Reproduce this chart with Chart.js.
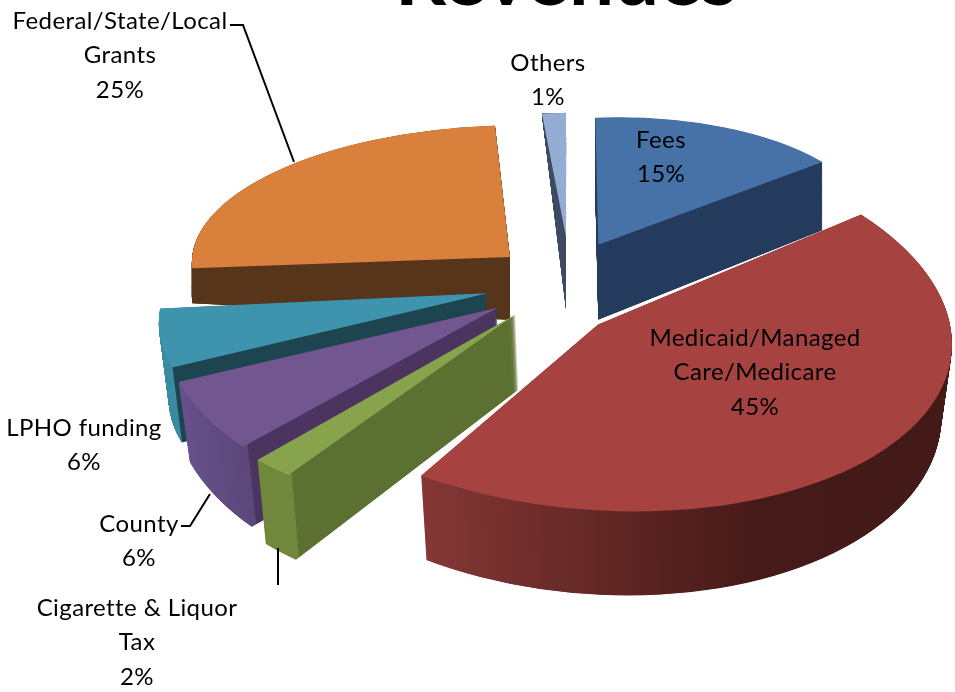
<!DOCTYPE html>
<html>
<head>
<meta charset="utf-8">
<title>Revenues</title>
<script src="https://cdn.jsdelivr.net/npm/chart.js@4"></script>
<style>
html, body { margin: 0; padding: 0; background: #fff; }
#wrap { position: relative; width: 955px; height: 692px; overflow: hidden; }
</style>
</head>
<body>
<div id="wrap"><canvas id="chart" width="955" height="692"></canvas></div>
<script>
var categories = ['Fees', 'Medicaid/Managed Care/Medicare', 'Cigarette & Liquor Tax', 'County', 'LPHO funding', 'Federal/State/Local Grants', 'Others'];
var shares = [15, 45, 2, 6, 6, 25, 1];
var topColors = ['#4672A8', '#A64340', '#87A44C', '#72568F', '#3F94AD', '#D9813C', '#95ACD4'];

// exploded pie seen in perspective: every slice gets its own projection.
// the arc's own offset option collapses thin slices, so the explode is applied here
var explode = [100, 60, 50, 60, 60, 60, 100];
var projXX = [279, 352, 345, 337, 325, 318, 382];
var projXY = [3, 37, -30, -33, -50, -5, 0];
var projYX = [-10, 0, -6, 14, -5, -3, -12];
var projYY = [127, 187, 194, 204, 164, 132, 124];
var nudgeX = [4, -10, 3, 3, 0, 4, 17];
var nudgeY = [1, 15, 6, 3, 1, -9, -5];
var sideDepth = [75, 75, 75, 80, 75, 63, 73];
var sideTilt = [-0.03, -0.01, 0, 0, 0, 0.088, 3];
var sideLean = [0, 0, 3, 0, 0, 0, 0];
var sideScaleX = [1, 0.97, 0.98, 0.965, 0.97, 1, 1];
var sideScaleY = [1, 1.05, 1.06, 1, 1, 1, 1];
var sideStops = [
    [[0, '#243B5E'], [955, '#243B5E']],
    [[420, '#843735'], [620, '#5F2624'], [760, '#451A18'], [955, '#431A18']],
    [[258, '#6F883C'], [291, '#6F883C'], [292, '#5C7032'], [955, '#5C7032']],
    [[180, '#65508A'], [247, '#5C4779'], [248, '#4B3560'], [955, '#4B3560']],
    [[160, '#3A8BA2'], [172, '#3A8BA2'], [173, '#1D4550'], [955, '#1D4550']],
    [[0, '#57351A'], [955, '#57351A']],
    [[0, '#3C4A62'], [955, '#3C4A62']]
];
var drawOrder = [6, 5, 0, 4, 3, 2, 1];
var centerX = 553;
var centerY = 283;

var labelLines = [
    ['Fees', '15%'],
    ['Medicaid/Managed', 'Care/Medicare', '45%'],
    ['Cigarette & Liquor', 'Tax', '2%'],
    ['County', '6%'],
    ['LPHO funding', '6%'],
    ['Federal/State/Local', 'Grants', '25%'],
    ['Others', '1%']
];
var labelX = [661, 755, 137, 139, 84, 120, 548];
var labelY = [140, 338, 608, 524, 428, 21, 63];
var leaderLines = [
    [[230, 25], [243, 25], [294, 162]],
    [[181, 526], [190, 526], [210, 494]],
    [[278, 548], [278, 585]]
];

function projection(arc, i) {
    var half = (arc.startAngle + arc.endAngle) / 2;
    var r = arc.outerRadius;
    var m = { a: projXX[i] / r, b: projYX[i] / r, c: projXY[i] / r, d: projYY[i] / r };
    var shiftX = Math.cos(half) * explode[i];
    var shiftY = Math.sin(half) * explode[i];
    return {
        m: m,
        tipX: centerX + nudgeX[i] + m.a * shiftX + m.c * shiftY,
        tipY: centerY + nudgeY[i] + m.b * shiftX + m.d * shiftY
    };
}

// the stops are given in page x, so run the gradient across the slice's own space
function sideGradient(ctx, arc, p, i) {
    var stops = sideStops[i];
    var x0 = stops[0][0];
    var x1 = stops[stops.length - 1][0];
    var n = p.m.a * p.m.a + p.m.c * p.m.c;
    var toArc = function (x) {
        return [arc.x + (x - p.tipX) * p.m.a / n, arc.y + (x - p.tipX) * p.m.c / n];
    };
    var from = toArc(x0);
    var to = toArc(x1);
    var g = ctx.createLinearGradient(from[0], from[1], to[0], to[1]);
    for (var s = 0; s < stops.length; s++) {
        g.addColorStop((stops[s][0] - x0) / (x1 - x0), stops[s][1]);
    }
    return g;
}

function drawSlice(ctx, arc, p, i, t) {
    ctx.save();
    ctx.translate(p.tipX + t * sideLean[i], p.tipY + t * sideDepth[i]);
    ctx.transform(1 + t * (sideScaleX[i] - 1), t * sideTilt[i], 0, 1 + t * (sideScaleY[i] - 1), 0, 0);
    ctx.transform(p.m.a, p.m.b, p.m.c, p.m.d, 0, 0);
    ctx.translate(-arc.x, -arc.y);
    arc.draw(ctx);
    ctx.restore();
}

var pie3d = {
    id: 'pie3d',
    beforeDatasetDraw: function (chart, args) {
        var ctx = chart.ctx;
        var arcs = args.meta.data;
        drawOrder.forEach(function (i) {
            var arc = arcs[i];
            var p = projection(arc, i);
            var own = arc.options;
            var steps = Math.ceil(sideDepth[i]) * 3;
            arc.options = Object.assign({}, own, { backgroundColor: sideGradient(ctx, arc, p, i) });
            for (var k = steps; k > 0; k--) {
                drawSlice(ctx, arc, p, i, k / steps);
            }
            arc.options = own;
            drawSlice(ctx, arc, p, i, 0);
        });
        return false;
    },
    afterDraw: function (chart) {
        var ctx = chart.ctx;
        ctx.save();
        ctx.strokeStyle = '#000';
        ctx.lineWidth = 2;
        leaderLines.forEach(function (line) {
            ctx.beginPath();
            line.forEach(function (pt, n) {
                if (n === 0) {
                    ctx.moveTo(pt[0], pt[1]);
                } else {
                    ctx.lineTo(pt[0], pt[1]);
                }
            });
            ctx.stroke();
        });
        ctx.fillStyle = '#000';
        ctx.textAlign = 'center';
        ctx.textBaseline = 'middle';
        ctx.font = '24px Lato';
        ctx.letterSpacing = '0.4px';
        labelLines.forEach(function (lines, i) {
            lines.forEach(function (text, n) {
                ctx.fillText(text, labelX[i], labelY[i] + n * 34.5);
            });
        });
        ctx.font = 'bold 80px Lato';
        ctx.letterSpacing = '0px';
        ctx.textBaseline = 'alphabetic';
        ctx.fillText('Revenues', 566, 5);
        ctx.restore();
    }
};

new Chart(document.getElementById('chart'), {
    type: 'pie',
    data: {
        labels: categories,
        datasets: [{
            data: shares,
            backgroundColor: topColors,
            borderWidth: 0
        }]
    },
    options: {
        responsive: false,
        animation: false,
        radius: 300,
        plugins: {
            legend: { display: false },
            tooltip: { enabled: false }
        }
    },
    plugins: [pie3d]
});
</script>
</body>
</html>
